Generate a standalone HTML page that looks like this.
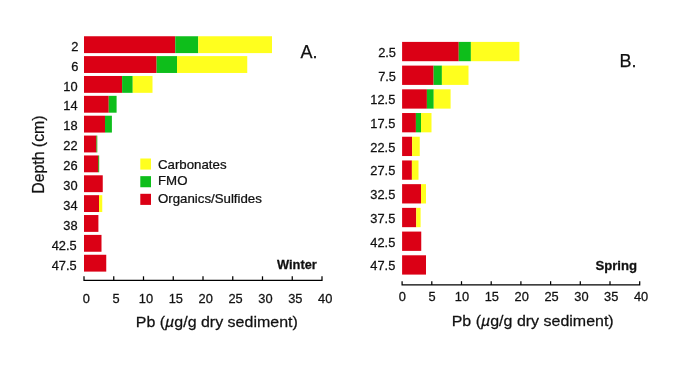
<!DOCTYPE html>
<html><head><meta charset="utf-8"><title>Pb sediment profiles</title>
<style>
html,body{margin:0;padding:0;background:#fff;}
svg{display:block;will-change:transform;}
text{font-family:"Liberation Sans",sans-serif;fill:#111;stroke:#111;stroke-width:0.25px;}
</style></head><body>
<svg width="685" height="368" viewBox="0 0 685 368">
<rect width="685" height="368" fill="#fff"/>
<rect x="84.0" y="36.25" width="91.25" height="16.85" fill="#db0015"/>
<rect x="175.25" y="36.25" width="23.00" height="16.85" fill="#0ebe1b"/>
<rect x="198.25" y="36.25" width="73.75" height="16.85" fill="#ffff1e"/>
<text transform="translate(78.3,50.7) scale(1.07,1)" font-size="12" text-anchor="end" font-weight="normal" >2</text>
<rect x="84.0" y="56.11" width="72.60" height="16.85" fill="#db0015"/>
<rect x="156.60" y="56.11" width="20.40" height="16.85" fill="#0ebe1b"/>
<rect x="177.00" y="56.11" width="70.25" height="16.85" fill="#ffff1e"/>
<text transform="translate(78.3,70.6) scale(1.07,1)" font-size="12" text-anchor="end" font-weight="normal" >6</text>
<rect x="84.0" y="75.98" width="38.10" height="16.85" fill="#db0015"/>
<rect x="122.10" y="75.98" width="10.65" height="16.85" fill="#0ebe1b"/>
<rect x="132.75" y="75.98" width="19.75" height="16.85" fill="#ffff1e"/>
<text transform="translate(77.6,90.5) scale(1.07,1)" font-size="12" text-anchor="end" font-weight="normal" >10</text>
<rect x="84.0" y="95.84" width="24.75" height="16.85" fill="#db0015"/>
<rect x="108.75" y="95.84" width="7.85" height="16.85" fill="#0ebe1b"/>
<text transform="translate(77.6,110.4) scale(1.07,1)" font-size="12" text-anchor="end" font-weight="normal" >14</text>
<rect x="84.0" y="115.71" width="21.00" height="16.85" fill="#db0015"/>
<rect x="105.00" y="115.71" width="6.90" height="16.85" fill="#0ebe1b"/>
<text transform="translate(77.6,130.3) scale(1.07,1)" font-size="12" text-anchor="end" font-weight="normal" >18</text>
<rect x="84.0" y="135.57" width="12.25" height="16.85" fill="#db0015"/>
<rect x="96.25" y="135.57" width="1.05" height="16.85" fill="#3f9a16"/>
<text transform="translate(77.6,150.2) scale(1.07,1)" font-size="12" text-anchor="end" font-weight="normal" >22</text>
<rect x="84.0" y="155.44" width="14.10" height="16.85" fill="#db0015"/>
<rect x="98.10" y="155.44" width="1.10" height="16.85" fill="#3f9a16"/>
<text transform="translate(77.6,170.1) scale(1.07,1)" font-size="12" text-anchor="end" font-weight="normal" >26</text>
<rect x="84.0" y="175.30" width="18.75" height="16.85" fill="#db0015"/>
<text transform="translate(77.6,190.0) scale(1.07,1)" font-size="12" text-anchor="end" font-weight="normal" >30</text>
<rect x="84.0" y="195.17" width="15.00" height="16.85" fill="#db0015"/>
<rect x="99.00" y="195.17" width="3.25" height="16.85" fill="#ffff1e"/>
<text transform="translate(77.6,209.9) scale(1.07,1)" font-size="12" text-anchor="end" font-weight="normal" >34</text>
<rect x="84.0" y="215.03" width="14.40" height="16.85" fill="#db0015"/>
<text transform="translate(77.6,229.8) scale(1.07,1)" font-size="12" text-anchor="end" font-weight="normal" >38</text>
<rect x="84.0" y="234.90" width="17.50" height="16.85" fill="#db0015"/>
<text transform="translate(76.7,249.7) scale(1.07,1)" font-size="12" text-anchor="end" font-weight="normal" >42.5</text>
<rect x="84.0" y="254.76" width="22.25" height="16.85" fill="#db0015"/>
<text transform="translate(76.7,269.6) scale(1.07,1)" font-size="12" text-anchor="end" font-weight="normal" >47.5</text>
<path d="M84 276.3 V280.35 H322 V276.3" fill="none" stroke="#000" stroke-width="1.25"/>
<path d="M113.75 276.3 V280.35" stroke="#000" stroke-width="1.25"/>
<path d="M143.50 276.3 V280.35" stroke="#000" stroke-width="1.25"/>
<path d="M173.25 276.3 V280.35" stroke="#000" stroke-width="1.25"/>
<path d="M203.00 276.3 V280.35" stroke="#000" stroke-width="1.25"/>
<path d="M232.75 276.3 V280.35" stroke="#000" stroke-width="1.25"/>
<path d="M262.50 276.3 V280.35" stroke="#000" stroke-width="1.25"/>
<path d="M292.25 276.3 V280.35" stroke="#000" stroke-width="1.25"/>
<text transform="translate(86.2,302.6) scale(1.07,1)" font-size="12" text-anchor="middle" font-weight="normal" >0</text>
<text transform="translate(116.08,302.6) scale(1.07,1)" font-size="12" text-anchor="middle" font-weight="normal" >5</text>
<text transform="translate(145.95,302.6) scale(1.07,1)" font-size="12" text-anchor="middle" font-weight="normal" >10</text>
<text transform="translate(175.82,302.6) scale(1.07,1)" font-size="12" text-anchor="middle" font-weight="normal" >15</text>
<text transform="translate(205.7,302.6) scale(1.07,1)" font-size="12" text-anchor="middle" font-weight="normal" >20</text>
<text transform="translate(235.57,302.6) scale(1.07,1)" font-size="12" text-anchor="middle" font-weight="normal" >25</text>
<text transform="translate(265.45,302.6) scale(1.07,1)" font-size="12" text-anchor="middle" font-weight="normal" >30</text>
<text transform="translate(295.32,302.6) scale(1.07,1)" font-size="12" text-anchor="middle" font-weight="normal" >35</text>
<text transform="translate(325.2,302.6) scale(1.07,1)" font-size="12" text-anchor="middle" font-weight="normal" >40</text>
<text transform="translate(316.8,269.3) scale(1.07,1)" font-size="12" text-anchor="end" font-weight="bold" >Winter</text>
<text transform="translate(300.6,58.2) scale(1.0,1)" font-size="18" text-anchor="start" font-weight="normal" >A.</text>
<text transform="translate(135.8,326.7) scale(1.032,1)" font-size="15.5">Pb (<tspan font-style="italic">µ</tspan>g/g dry sediment)</text>
<text transform="translate(43.7,193.8) rotate(-90) scale(1.003,1)" font-size="15.8">Depth (cm)</text>
<rect x="140.3" y="158.50" width="10.7" height="11.1" fill="#ffff1e"/>
<text transform="translate(158.0,168.6) scale(1.045,1)" font-size="12.7" text-anchor="start" font-weight="normal" >Carbonates</text>
<rect x="140.3" y="176.15" width="10.7" height="11.1" fill="#0ebe1b"/>
<text transform="translate(158.0,185.0) scale(1.045,1)" font-size="12.7" text-anchor="start" font-weight="normal" >FMO</text>
<rect x="140.3" y="193.80" width="10.7" height="11.1" fill="#db0015"/>
<text transform="translate(158.0,202.5) scale(1.045,1)" font-size="12.7" text-anchor="start" font-weight="normal" >Organics/Sulfides</text>
<rect x="402.1" y="41.90" width="56.65" height="19.3" fill="#db0015"/>
<rect x="458.75" y="41.90" width="12.15" height="19.3" fill="#0ebe1b"/>
<rect x="470.90" y="41.90" width="48.50" height="19.3" fill="#ffff1e"/>
<text transform="translate(396.0,56.9) scale(1.07,1)" font-size="12" text-anchor="end" font-weight="normal" >2.5</text>
<rect x="402.1" y="65.61" width="31.50" height="19.3" fill="#db0015"/>
<rect x="433.60" y="65.61" width="8.30" height="19.3" fill="#0ebe1b"/>
<rect x="441.90" y="65.61" width="26.60" height="19.3" fill="#ffff1e"/>
<text transform="translate(396.0,80.61) scale(1.07,1)" font-size="12" text-anchor="end" font-weight="normal" >7.5</text>
<rect x="402.1" y="89.32" width="24.80" height="19.3" fill="#db0015"/>
<rect x="426.90" y="89.32" width="6.85" height="19.3" fill="#0ebe1b"/>
<rect x="433.75" y="89.32" width="16.85" height="19.3" fill="#ffff1e"/>
<text transform="translate(395.3,104.32) scale(1.07,1)" font-size="12" text-anchor="end" font-weight="normal" >12.5</text>
<rect x="402.1" y="113.03" width="13.80" height="19.3" fill="#db0015"/>
<rect x="415.90" y="113.03" width="5.10" height="19.3" fill="#0ebe1b"/>
<rect x="421.00" y="113.03" width="10.50" height="19.3" fill="#ffff1e"/>
<text transform="translate(395.3,128.03) scale(1.07,1)" font-size="12" text-anchor="end" font-weight="normal" >17.5</text>
<rect x="402.1" y="136.74" width="10.00" height="19.3" fill="#db0015"/>
<rect x="412.10" y="136.74" width="7.65" height="19.3" fill="#ffff1e"/>
<text transform="translate(395.3,151.74) scale(1.07,1)" font-size="12" text-anchor="end" font-weight="normal" >22.5</text>
<rect x="402.1" y="160.45" width="9.80" height="19.3" fill="#db0015"/>
<rect x="411.90" y="160.45" width="6.60" height="19.3" fill="#ffff1e"/>
<text transform="translate(395.3,175.45) scale(1.07,1)" font-size="12" text-anchor="end" font-weight="normal" >27.5</text>
<rect x="402.1" y="184.16" width="18.90" height="19.3" fill="#db0015"/>
<rect x="421.00" y="184.16" width="5.00" height="19.3" fill="#ffff1e"/>
<text transform="translate(395.3,199.16) scale(1.07,1)" font-size="12" text-anchor="end" font-weight="normal" >32.5</text>
<rect x="402.1" y="207.87" width="14.15" height="19.3" fill="#db0015"/>
<rect x="416.25" y="207.87" width="4.35" height="19.3" fill="#ffff1e"/>
<text transform="translate(395.3,222.87) scale(1.07,1)" font-size="12" text-anchor="end" font-weight="normal" >37.5</text>
<rect x="402.1" y="231.58" width="19.15" height="19.3" fill="#db0015"/>
<text transform="translate(395.3,246.58) scale(1.07,1)" font-size="12" text-anchor="end" font-weight="normal" >42.5</text>
<rect x="402.1" y="255.29" width="23.90" height="19.3" fill="#db0015"/>
<text transform="translate(395.3,270.29) scale(1.07,1)" font-size="12" text-anchor="end" font-weight="normal" >47.5</text>
<path d="M402.1 281.2 V284.9 H639.7 V281.2" fill="none" stroke="#000" stroke-width="1.25"/>
<path d="M431.80 281.2 V284.9" stroke="#000" stroke-width="1.25"/>
<path d="M461.50 281.2 V284.9" stroke="#000" stroke-width="1.25"/>
<path d="M491.20 281.2 V284.9" stroke="#000" stroke-width="1.25"/>
<path d="M520.90 281.2 V284.9" stroke="#000" stroke-width="1.25"/>
<path d="M550.60 281.2 V284.9" stroke="#000" stroke-width="1.25"/>
<path d="M580.30 281.2 V284.9" stroke="#000" stroke-width="1.25"/>
<path d="M610.00 281.2 V284.9" stroke="#000" stroke-width="1.25"/>
<text transform="translate(402.3,301.4) scale(1.07,1)" font-size="12" text-anchor="middle" font-weight="normal" >0</text>
<text transform="translate(432.15,301.4) scale(1.07,1)" font-size="12" text-anchor="middle" font-weight="normal" >5</text>
<text transform="translate(462.0,301.4) scale(1.07,1)" font-size="12" text-anchor="middle" font-weight="normal" >10</text>
<text transform="translate(491.85,301.4) scale(1.07,1)" font-size="12" text-anchor="middle" font-weight="normal" >15</text>
<text transform="translate(521.7,301.4) scale(1.07,1)" font-size="12" text-anchor="middle" font-weight="normal" >20</text>
<text transform="translate(551.55,301.4) scale(1.07,1)" font-size="12" text-anchor="middle" font-weight="normal" >25</text>
<text transform="translate(581.4,301.4) scale(1.07,1)" font-size="12" text-anchor="middle" font-weight="normal" >30</text>
<text transform="translate(611.25,301.4) scale(1.07,1)" font-size="12" text-anchor="middle" font-weight="normal" >35</text>
<text transform="translate(641.1,301.4) scale(1.07,1)" font-size="12" text-anchor="middle" font-weight="normal" >40</text>
<text transform="translate(637.0,269.5) scale(1.095,1)" font-size="12" text-anchor="end" font-weight="bold" >Spring</text>
<text transform="translate(619.4,66.7) scale(1.0,1)" font-size="18" text-anchor="start" font-weight="normal" >B.</text>
<text transform="translate(451.7,325.8) scale(1.032,1)" font-size="15.5">Pb (<tspan font-style="italic">µ</tspan>g/g dry sediment)</text>
</svg>
</body></html>
